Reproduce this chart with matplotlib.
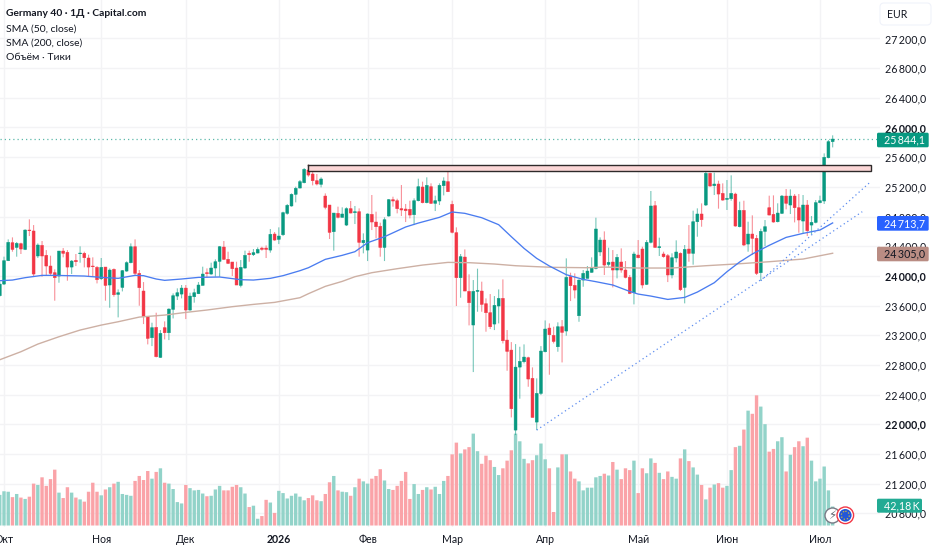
import matplotlib
matplotlib.use("Agg")
import matplotlib.pyplot as plt
from matplotlib.patches import FancyBboxPatch, Circle
from matplotlib.transforms import Affine2D

plt.rcParams['font.family'] = ['Lato', 'DejaVu Sans']

W, H = 932, 550
FIRST_INDEX = -1

opens = [23733,23890,24205,24447,24384,24434,24357,24618,24605,24268,24411,24277,24133,24043,23998,24335,24317,24119,24209,24299,
24304,24241,24133,24115,23962,24119,23877,24088,23751,23845,24065,24178,24393,24034,23796,23450,23167,23306,22902,23302,
23234,23549,23728,23755,23836,23540,23719,23760,23872,24043,24025,24106,24196,24389,24223,24187,24106,23872,24106,24304,
24286,24308,24375,24375,24348,24564,24492,24555,24843,24942,25099,25184,25256,25427,25373,25283,25234,25076,24955,24596,
24843,24789,24685,24906,24852,24865,24447,24348,24829,24726,24668,24384,24807,25027,25013,24906,24901,24897,24825,25013,
25198,24987,25202,24978,25009,25216,25270,24964,24582,23976,24254,23791,23338,23791,23796,23625,23504,23351,23594,23697,
23135,23000,21922,22771,22843,22897,22619,22030,22416,22978,23297,23198,23045,23315,23257,23989,23872,23463,23944,23967,
24048,24101,24322,24483,24155,24187,24079,24187,24079,23980,23773,24281,24362,23886,24452,24946,24380,24295,24272,24012,
24241,24304,23845,24362,24304,24730,24834,24955,25382,25216,25238,25112,25031,25040,25103,24663,24883,24429,24564,24506,
24043,24600,24919,24829,24730,24843,25076,24955,25076,24919,24739,24955,24685,24721,24987,25009,25593,25809]

closes = [23890,24205,24452,24357,24438,24362,24618,24609,24025,24416,24268,24133,24034,23976,24335,24304,24119,24200,24191,24308,
24245,24119,24124,23949,24115,23872,24079,23746,23773,24070,24178,24393,24034,23841,23450,23158,23302,22911,23225,23234,
23553,23733,23773,23836,23540,23728,23773,23877,24025,24030,24106,24191,24393,24223,24169,24097,23877,24115,24277,24286,
24313,24357,24357,24357,24560,24483,24537,24852,24951,25099,25180,25270,25436,25359,25283,25238,25306,24924,24587,24847,
24789,24834,24906,24847,24865,24452,24479,24834,24726,24663,24384,24757,25027,25009,24906,24888,24879,24820,25013,25202,
24987,25220,24978,25013,25220,25279,25135,24587,23976,24259,23796,23639,23791,23805,23616,23504,23315,23603,23697,23126,
22983,22210,22771,22848,22906,22610,22093,22416,22987,23284,23207,23117,23315,23239,23980,23868,23809,23944,24034,24065,
24106,24632,24483,24146,24182,24079,24250,24079,23980,23764,24295,24245,23877,24452,24942,24384,24393,24259,24012,24245,
24322,23814,24357,24304,24730,24834,24757,25382,25211,25238,25103,25022,25045,25112,24672,24883,24416,24564,24506,24034,
24600,24663,24820,24726,24847,25076,24978,25076,24919,24753,24955,24609,24721,24987,25013,25598,25809,25844]

highs = [23922,24259,24492,24519,24456,24447,24627,24762,24685,24438,24470,24348,24272,24088,24335,24375,24348,24214,24295,24398,
24326,24286,24250,24133,24241,24119,24101,24101,23818,24079,24196,24438,24492,24079,23917,23450,23369,23504,23270,23387,
23562,23764,23832,23877,23877,23773,23827,23917,24124,24101,24178,24223,24402,24470,24326,24187,24191,24214,24340,24340,
24362,24384,24393,24411,24632,24591,24654,24865,24969,25112,25202,25292,25454,25499,25449,25373,25328,25112,24955,24847,
24933,24924,24924,25009,24942,24910,24573,24843,25090,24865,24717,24789,25036,25067,25040,25225,24969,25013,25045,25310,
25270,25328,25247,25081,25247,25328,25400,25013,24654,24295,24357,24021,23944,24097,23922,23697,23755,23728,23818,23953,
23270,23108,23081,23045,23077,22911,22767,22619,23054,23400,23360,23315,23374,23405,24236,24043,24034,23953,24079,24133,
24250,24784,24519,24600,24380,24348,24295,24371,24200,24012,24326,24483,24393,24483,25144,25009,24515,24326,24295,24304,
24479,24317,24416,24685,24879,24910,24977,25436,25391,25391,25283,25247,25292,25355,25121,25000,25013,24730,24816,24551,
24636,24753,25081,25085,24978,25090,25171,25166,25103,25103,25090,25022,24807,25022,25081,25651,25831,25894]

lows = [23720,23877,24200,24326,24259,24295,24348,24537,23989,24241,23989,24012,24012,23666,23908,24250,23935,24025,24133,24178,
24115,23998,23998,23899,23944,23666,23571,23720,23441,23791,24056,24169,23998,23598,23351,23077,23054,22902,22895,23144,
23135,23427,23675,23697,23418,23531,23639,23755,23872,23980,24016,23989,23989,24214,24160,23998,23877,23845,24097,24191,
24268,24304,24340,24241,24313,24474,24429,24537,24825,24933,24991,25180,25247,25337,25220,25220,25193,24897,24497,24340,
24775,24789,24672,24843,24699,24259,24304,24200,24618,24506,24259,24200,24798,24933,24843,24807,24726,24775,24685,25004,
24978,24978,24969,24874,24955,25085,25130,24573,23594,23706,23796,23333,22704,23517,23517,23248,23284,23270,23360,23090,
22722,22093,21855,22345,22821,22506,22093,21922,22394,22969,22668,23090,22978,22834,23194,23661,23697,23382,23854,23967,
24043,24088,24268,24012,24124,23845,23967,24043,23967,23755,23616,24236,23832,23877,24438,24380,24268,24245,23917,23967,
24182,23796,23630,24191,24151,24528,24663,24942,25202,25090,24906,25013,24888,25013,24663,24654,24402,24326,24281,24012,
23935,24402,24816,24717,24721,24834,24897,24834,24721,24582,24573,24537,24560,24708,24978,24969,25584,25732]

volumes = [68,76,75,63,70,62,59,64,93,90,107,88,103,124,73,61,85,73,62,58,
53,75,95,75,67,80,85,93,97,70,68,66,99,110,101,121,104,119,127,95,
93,81,52,49,90,83,78,79,71,65,66,80,88,78,78,86,90,85,71,41,
44,15,21,57,51,28,77,72,60,66,71,64,56,61,67,56,54,70,96,110,
78,75,74,66,85,104,98,93,104,110,125,100,81,79,88,99,119,59,92,70,
79,85,80,86,
70,99,110,158,184,160,169,174,204,165,137,155,145,130,112,127,144,167,204,187,
148,138,145,156,182,147,127,30,129,158,158,120,104,98,78,84,84,107,110,115,
111,141,124,103,127,123,144,72,127,116,149,139,117,103,120,108,104,149,169,143,
129,113,90,58,84,91,94,84,88,123,174,177,213,255,248,289,264,225,164,170,
187,196,120,157,174,187,176,195,144,98,104,131,78,42.18]

sma50_index = [-1,2,5,9,12,19,23,27,31,33,36,38,42,46,51,56,59,63,66,70,72,76,80,83,86,90,95,98,103,106,109,113,117,120,
               123,126,129,133,137,140,144,148,150,153,157,161,164,168,171,174,177,181,185,189,193,196]
sma50 = [23935,23944,23976,24007,24007,23998,23980,23967,24007,24003,23958,23940,23958,23980,23985,23949,23944,23967,24003,24070,
         24110,24223,24277,24326,24447,24528,24659,24712,24789,24861,24843,24784,24690,24528,24371,24236,24133,24016,23953,
         23922,23877,23791,23755,23728,23683,23710,23782,23908,24056,24187,24295,24412,24519,24573,24618,24713.7]
sma200_index = [-1,4,8,13,18,23,27,32,38,43,48,54,59,64,70,72,76,80,83,87,93,99,105,110,116,121,126,130,138,142,150,158,166,173,181,189,196]
sma200 = [22870,22978,23081,23180,23270,23337,23382,23445,23472,23508,23540,23585,23616,23643,23706,23760,23859,23926,23989,24043,
          24097,24146,24182,24178,24160,24137,24124,24115,24110,24119,24106,24106,24137,24160,24191,24227,24305]

month_index = [0,23,43,65,86,106,128,150,171,193]
month_labels = ['Окт','Ноя','Дек','2026','Фев','Мар','Апр','Май','Июн','Июл']
price_ticks = [27200,26800,26400,26000,25600,25200,24800,24400,24000,23600,23200,22800,22400,22000,21600,21200,20800]
bold_prices = [26000,24000,22000]

zone_index = [72,205]
zone_prices = [25413,25490]
trend_a_index = [126,203]
trend_a = [21922,24865]
trend_b_index = [179,205]
trend_b = [23935,25270]
last_price = 25844.1

GREEN, RED = '#089981', '#f23645'
GREEN_V, RED_V = '#92d3c9', '#faa3a8'
BLUE, BROWN = '#4a7cf0', '#cdb0a4'
TXT = '#131722'

fig = plt.figure(figsize=(W/100, H/100), dpi=100, facecolor='white')
px = Affine2D().scale(1/W, -1/H).translate(0, 1) + fig.transFigure

rect = [0, (H-527)/H, 880/W, 527/H]
ax_bg = fig.add_axes(rect, zorder=1)
ax_vol = fig.add_axes(rect, zorder=2)
ax = fig.add_axes(rect, zorder=3)
ax.patch.set_visible(False)
ax_vol.patch.set_visible(False)

xlim = (-0.946, 207.2)
ylim = (20616, 27718)
for a in (ax_bg, ax_vol, ax):
    a.set_xlim(*xlim)
    for s in a.spines.values():
        s.set_visible(False)
ax_bg.set_ylim(*ylim)
ax.set_ylim(*ylim)
ax_vol.set_ylim(-3.3, 1166.6)
ax_vol.axis('off')

ax_bg.set_xticks(month_index)
ax_bg.set_yticks(price_ticks)
ax_bg.set_xticklabels([])
ax_bg.set_yticklabels([])
ax_bg.tick_params(length=0)
ax_bg.grid(True, color='#f3f3f5', lw=1.0)
ax_bg.set_axisbelow(True)

idx = list(range(FIRST_INDEX, FIRST_INDEX + len(opens)))
vol_colors = [GREEN_V if c >= o else RED_V for o, c in zip(opens, closes)]
for p in ax_vol.bar(idx, volumes, width=0.8, color=vol_colors, linewidth=0):
    p.set_snap(False)

colors = [GREEN if c >= o else RED for o, c in zip(opens, closes)]
wicks = ax.vlines(idx, lows, highs, colors=colors, lw=0.8, alpha=0.55, zorder=2)
wicks.set_snap(False)
for p in ax.bar(idx, [abs(c-o) for o, c in zip(opens, closes)], bottom=[min(o, c) for o, c in zip(opens, closes)],
                width=0.68, color=colors, edgecolor=colors, linewidth=0.35, zorder=3):
    p.set_snap(False)

ax.plot(sma200_index, sma200, color=BROWN, lw=1.0, zorder=4)
ax.plot(sma50_index, sma50, color=BLUE, lw=0.95, zorder=4)
ax.plot(trend_a_index, trend_a, color='#5d8df0', lw=0.9, ls=(0, (1, 2.4)), zorder=4)
ax.plot(trend_b_index, trend_b, color='#5d8df0', lw=0.9, ls=(0, (1, 2.4)), zorder=4)
ax.axhline(last_price, color='#5db9aa', lw=0.9, ls=(0, (1, 2.4)), zorder=1)
ax.fill_between(zone_index, zone_prices[0], zone_prices[1], facecolor='#fbd6d6', edgecolor='none', zorder=5)
ax.plot([zone_index[0], zone_index[1], zone_index[1], zone_index[0], zone_index[0]],
        [zone_prices[1], zone_prices[1], zone_prices[0], zone_prices[0], zone_prices[1]],
        color='#2e2a2a', lw=1.0, zorder=6, solid_joinstyle='miter')

def fmt(v):
    s = f"{v:.1f}".replace('.', ',')
    head, tail = s.split(',')
    return head[:-3] + '\u2009' + head[-3:] + ',' + tail

ax.yaxis.tick_right()
ax.set_yticks(price_ticks)
ax.set_yticklabels([fmt(p) for p in price_ticks], fontsize=7.7, color=TXT)
ax.tick_params(axis='y', length=0, pad=3.6)
ax.set_xticks(month_index)
ax.set_xticklabels(month_labels, fontsize=7.6, color=TXT)
ax.tick_params(axis='x', length=0, pad=4.8)
for lab, p in zip(ax.get_yticklabels(), price_ticks):
    if p in bold_prices:
        lab.set_fontweight('bold')
for lab, m in zip(ax.get_xticklabels(), month_labels):
    if m == '2026':
        lab.set_fontweight('bold')

def box(x0, y0, x1, y1, fc, ec='none', r=1.5, z=20, lw=0.8):
    fig.add_artist(FancyBboxPatch((x0+r, y0+r), x1-x0-2*r, y1-y0-2*r, boxstyle=f'round,pad={r},rounding_size={r}',
                                  transform=px, facecolor=fc, edgecolor=ec, lw=lw, zorder=z))

def label(x, y, s, color, **kw):
    fig.text(x/W, 1-y/H, s, color=color, va='center', ha='left', zorder=21, **kw)

box(877, 132.7, 928.7, 147.3, GREEN)
label(884.5, 140.2, fmt(last_price), 'white', fontsize=7.7)
box(877, 216, 928.7, 230.7, '#2962ff')
label(884.5, 223.5, fmt(sma50[-1]), 'white', fontsize=7.7)
box(877, 246.7, 928.7, 261.3, '#b98c83')
label(884.5, 254.2, fmt(sma200[-1]), TXT, fontsize=7.7)
box(877, 498.7, 922, 512.7, '#22ab94')
label(884.5, 505.9, '42,18\u2009K', 'white', fontsize=7.7)
box(880, 3, 931, 25, 'white', ec='#f0f3fa', r=4)
label(887.5, 14.5, 'EUR', TXT, fontsize=7.6)

label(6.5, 14, 'Germany 40 · 1Д · Capital.com', TXT, fontsize=7.4, fontweight='bold')
label(6.5, 29, 'SMA (50, close)', TXT, fontsize=7.5)
label(6.5, 43, 'SMA (200, close)', TXT, fontsize=7.5)
label(6.5, 57.5, 'Объём · Тики', TXT, fontsize=7.5)

fig.add_artist(Circle((832.5, 515.5), 7.5, transform=px, fc='white', ec='#787b86', lw=1.0, zorder=22))
fig.text(832.5/W, 1-515.5/H, '\u26a1', fontsize=8.5, color='#5d606b', ha='center', va='center', zorder=23, family='DejaVu Sans')
fig.add_artist(Circle((845.3, 515.3), 8.3, transform=px, fc='white', ec='#f23645', lw=1.0, zorder=24))
fig.add_artist(Circle((845.3, 515.3), 6.3, transform=px, fc='#2356d8', ec='none', zorder=25))
fig.add_artist(Circle((845.3, 515.3), 4.0, transform=px, fc='none', ec='#d8b93a', lw=0.9, ls=(0, (1, 1.6)), zorder=26))

fig.savefig('out.png', dpi=100)
